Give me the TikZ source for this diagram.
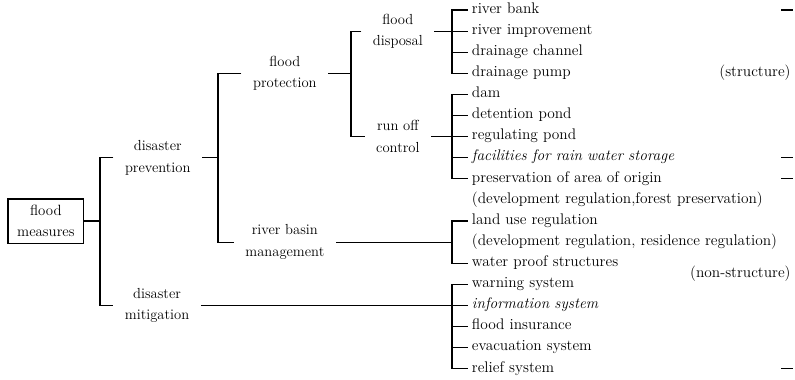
\documentclass[tikz,border=0pt]{standalone}
\usepackage{tikz}
\usetikzlibrary{positioning}

\begin{document}
\begin{tikzpicture}
  [x=0.027cm,y=-0.027cm,node distance=0.5697cm,on grid,line width=0.9pt,%全局设置:单位、行距、对齐网格、线宽
   leafnode/.style={text width=8.5cm,align=left,inner xsep=0.1cm,inner ysep=0pt,text height=1.6ex,text depth=0.45ex,font=\fontsize{11.8}{14}\selectfont},%右侧的条目
   branch/.style={align=center,inner xsep=0.3cm,inner ysep=0pt,font=\fontsize{11.2}{16.5}\selectfont},%中间的分类
   rootbox/.style={draw,align=center,minimum width=2.05cm,minimum height=1.19cm,font=\fontsize{11.4}{16.5}\selectfont},%最左边的方框
   note/.style={inner sep=0pt,font=\fontsize{11.8}{14}\selectfont}]%(structure) 一类的说明

  \useasboundingbox (0,0) rectangle (795,379);

  % 右侧条目,一行接一行
  \node [leafnode] (bank) at (629.4,10) {river bank};
  \node [leafnode] (improve)     [below=of bank]        {river improvement};
  \node [leafnode] (channel)     [below=of improve]     {drainage channel};
  \node [leafnode] (pump)        [below=of channel]     {drainage pump};
  \node [leafnode] (dam)         [below=of pump]        {dam};
  \node [leafnode] (detention)   [below=of dam]         {detention pond};
  \node [leafnode] (regulating)  [below=of detention]   {regulating pond};
  \node [leafnode] (facilities)  [below=of regulating]  {\itshape facilities for rain water storage};
  \node [leafnode] (origin)      [below=of facilities]  {preservation of area of origin};
  \node [leafnode] (forest)      [below=of origin]      {(development regulation,forest preservation)};
  \node [leafnode] (landuse)     [below=of forest]      {land use regulation};
  \node [leafnode] (residence)   [below=of landuse]     {(development regulation, residence regulation)};
  \node [leafnode] (proof)       [below=of residence]   {water proof structures};
  \node [leafnode] (warning)     [below=of proof]       {warning system};
  \node [leafnode] (information) [below=of warning]     {\itshape information system};
  \node [leafnode] (insurance)   [below=of information] {flood insurance};
  \node [leafnode] (evacuation)  [below=of insurance]   {evacuation system};
  \node [leafnode] (relief)      [below=of evacuation]  {relief system};

  % 分类节点,与对应的条目同一行
  \node [branch]  (disposal)   [left=6.25cm of improve]     {flood\\disposal};
  \node [branch]  (runoff)     [left=6.25cm of regulating]  {run off\\control};
  \node [branch]  (protection) [left=9.3cm of pump]         {flood\\protection};
  \node [branch]  (basin)      [left=9.3cm of residence]    {river basin\\management};
  \node [branch]  (prevention) [left=12.73cm of facilities] {disaster\\prevention};
  \node [branch]  (mitigation) [left=12.75cm of information]{disaster\\mitigation};
  \node [rootbox] (measures)   [left=15.75cm of landuse]    {flood\\measures};

  \node [note,anchor=base east] (structure) at (pump.base east) {(structure)};
  \node [note,anchor=east,yshift=-0.285cm] (nonstructure) at (proof.east) {(non-structure)};

  % 括号所在的竖线位置
  \coordinate (b1) at (100,0);
  \coordinate (b2) at (218,0);
  \coordinate (b3) at (351,0);
  \coordinate (b4) at (452,0);

  % 第一层
  \draw (measures.east) -- (measures.east -| b1);
  \draw (prevention.west) -- (prevention.west -| b1) -- (mitigation.west -| b1) -- (mitigation.west);
  % 第二层
  \draw (prevention.east) -- (prevention.east -| b2);
  \draw (protection.west) -- (protection.west -| b2) -- (basin.west -| b2) -- (basin.west);
  % 第三层
  \draw (protection.east) -- (protection.east -| b3);
  \draw (disposal.west) -- (disposal.west -| b3) -- (runoff.west -| b3) -- (runoff.west);
  % 条目的括号
  \draw (disposal.east) -- (disposal.east -| b4);
  \draw (bank.west) -- (bank.west -| b4) -- (pump.west -| b4) -- (pump.west)
        (improve.west) -- (improve.west -| b4)
        (channel.west) -- (channel.west -| b4);
  \draw (runoff.east) -- (runoff.east -| b4);
  \draw (dam.west) -- (dam.west -| b4) -- (origin.west -| b4) -- (origin.west)
        (detention.west) -- (detention.west -| b4)
        (regulating.west) -- (regulating.west -| b4)
        (facilities.west) -- (facilities.west -| b4);
  \draw (basin.east) -- (basin.east -| b4);
  \draw (landuse.west) -- (landuse.west -| b4) -- (proof.west -| b4) -- (proof.west);
  \draw (mitigation.east) -- (mitigation.east -| b4);
  \draw (warning.west) -- (warning.west -| b4) -- (relief.west -| b4) -- (relief.west)
        (information.west) -- (information.west -| b4)
        (insurance.west) -- (insurance.west -| b4)
        (evacuation.west) -- (evacuation.west -| b4);

  % 右边缘的短线
  \draw ([xshift=-0.27cm]bank.east) -- ([xshift=0.05cm]bank.east)
        ([xshift=-0.27cm]facilities.east) -- ([xshift=0.05cm]facilities.east)
        ([xshift=-0.27cm]origin.east) -- ([xshift=0.05cm]origin.east)
        ([xshift=-0.27cm]relief.east) -- ([xshift=0.05cm]relief.east);
\end{tikzpicture}
\end{document}
